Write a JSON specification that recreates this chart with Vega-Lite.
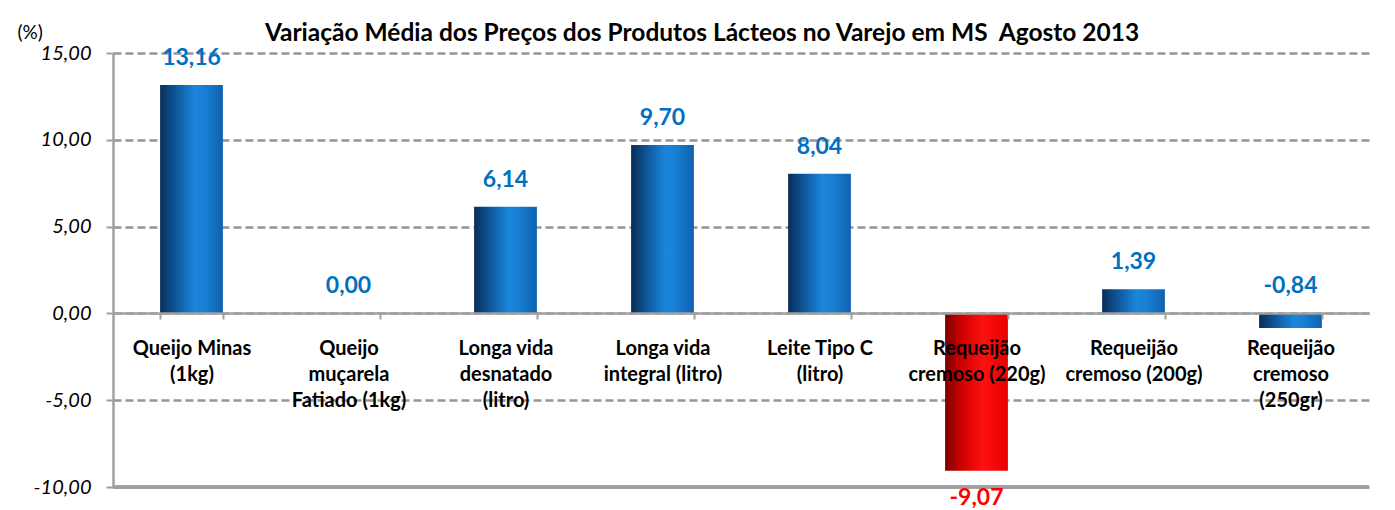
{
  "$schema": "https://vega.github.io/schema/vega-lite/v6.json",
  "width": 1256,
  "height": 434,
  "autosize": {"type": "none"},
  "padding": {"left": 113, "top": 53, "right": 26, "bottom": 23},
  "background": "white",
  "config": {
    "view": {"stroke": null},
    "font": "Lato",
    "locale": {"number": {"decimal": ",", "thousands": ".", "grouping": [3], "currency": ["R$", ""], "minus": "-"}}
  },
  "title": {
    "text": "Variação Média dos Preços dos Produtos Lácteos no Varejo em MS\u00a0 Agosto 2013",
    "anchor": "middle",
    "frame": "group",
    "dx": -39,
    "dy": 36,
    "offset": 13,
    "fontSize": 24.5,
    "fontWeight": "bold",
    "font": "Lato",
    "color": "#000000"
  },
  "data": {
    "values": [
      {"produto": "Queijo Minas|(1kg)", "valor": 13.16, "grupo": "alta"},
      {"produto": "Queijo|muçarela|Fatiado (1kg)", "valor": 0.00, "grupo": "alta"},
      {"produto": "Longa vida|desnatado|(litro)", "valor": 6.14, "grupo": "alta"},
      {"produto": "Longa vida|integral (litro)", "valor": 9.70, "grupo": "alta"},
      {"produto": "Leite Tipo C|(litro)", "valor": 8.04, "grupo": "alta"},
      {"produto": "Requeijão|cremoso (220g)", "valor": -9.07, "grupo": "queda"},
      {"produto": "Requeijão|cremoso (200g)", "valor": 1.39, "grupo": "alta"},
      {"produto": "Requeijão|cremoso|(250gr)", "valor": -0.84, "grupo": "alta"}
    ]
  },
  "encoding": {
    "x": {
      "field": "produto",
      "type": "nominal",
      "sort": ["Queijo Minas|(1kg)", "Queijo|muçarela|Fatiado (1kg)", "Longa vida|desnatado|(litro)", "Longa vida|integral (litro)", "Leite Tipo C|(litro)", "Requeijão|cremoso (220g)", "Requeijão|cremoso (200g)", "Requeijão|cremoso|(250gr)"],
      "scale": {"paddingInner": 0.6, "paddingOuter": 0.3},
      "axis": {
        "title": null,
        "labelAngle": 0,
        "labelExpr": "split(datum.label, '|')",
        "labelFont": "Lato",
        "labelFontSize": 20,
        "labelFontWeight": "bold",
        "labelColor": "#000000",
        "labelLineHeight": 26,
        "labelPadding": 19,
        "labelLimit": 300,
        "offset": -174,
        "domainColor": "#a0a0a0",
        "domainWidth": 2.5,
        "tickColor": "#a0a0a0",
        "tickWidth": 2,
        "tickSize": 6,
        "tickBand": "extent",
        "grid": false,
        "zindex": 1
      }
    }
  },
  "layer": [
    {
      "mark": {"type": "rule", "color": "#a0a0a0", "strokeWidth": 2.5},
      "encoding": {"y": {"datum": -10, "type": "quantitative"}, "x": null}
    },
    {
      "transform": [{"filter": "datum.grupo == 'alta'"}],
      "mark": {
        "type": "bar",
        "color": {
          "gradient": "linear",
          "x1": 0, "y1": 0, "x2": 1, "y2": 0,
          "stops": [
            {"offset": 0, "color": "#0a2e55"},
            {"offset": 0.2, "color": "#0d4f8e"},
            {"offset": 0.55, "color": "#1a86dc"},
            {"offset": 0.7, "color": "#1980d4"},
            {"offset": 1, "color": "#0f62b0"}
          ]
        }
      },
      "encoding": {
        "y": {
          "field": "valor",
          "type": "quantitative",
          "scale": {"domain": [-10, 15], "nice": false},
          "axis": {
            "values": [-10, -5, 0, 5, 10, 15],
            "format": ".2f",
            "labelFont": "Lato",
            "labelFontSize": 20,
            "labelFontStyle": "italic",
            "labelFontWeight": "normal",
            "labelColor": "#000000",
            "labelPadding": 15,
            "title": "(%)",
            "titleAngle": 0,
            "titleX": -96,
            "titleY": -21,
            "titleAlign": "left",
            "titleBaseline": "middle",
            "titleFont": "Lato",
            "titleFontSize": 19,
            "titleFontWeight": "normal",
            "titleColor": "#000000",
            "domainColor": "#a0a0a0",
            "domainWidth": 2.5,
            "tickColor": "#a0a0a0",
            "tickWidth": 2,
            "tickSize": 7,
            "grid": true,
            "gridColor": "#959595",
            "gridWidth": 2.5,
            "gridDash": [8, 4]
          }
        }
      }
    },
    {
      "transform": [{"filter": "datum.grupo == 'queda'"}],
      "mark": {
        "type": "bar",
        "color": {
          "gradient": "linear",
          "x1": 0, "y1": 0, "x2": 1, "y2": 0,
          "stops": [
            {"offset": 0, "color": "#7a0000"},
            {"offset": 0.25, "color": "#cc0000"},
            {"offset": 0.6, "color": "#ff1010"},
            {"offset": 1, "color": "#e80000"}
          ]
        }
      },
      "encoding": {"y": {"field": "valor", "type": "quantitative"}}
    },
    {
      "transform": [{"filter": "datum.grupo == 'alta'"}, {"calculate": "max(datum.valor, 0)", "as": "topo"}],
      "mark": {"type": "text", "baseline": "alphabetic", "dy": -20, "fontSize": 23, "fontWeight": "bold", "font": "Lato", "color": "#0070C0"},
      "encoding": {
        "y": {"field": "topo", "type": "quantitative"},
        "text": {"field": "valor", "type": "quantitative", "format": ".2f"}
      }
    },
    {
      "transform": [{"filter": "datum.grupo == 'queda'"}],
      "mark": {"type": "text", "baseline": "alphabetic", "dy": 34, "fontSize": 23, "fontWeight": "bold", "font": "Lato", "color": "#FF0000"},
      "encoding": {
        "y": {"field": "valor", "type": "quantitative"},
        "text": {"field": "valor", "type": "quantitative", "format": ".2f"}
      }
    }
  ],
  "resolve": {"scale": {"y": "shared"}}
}
